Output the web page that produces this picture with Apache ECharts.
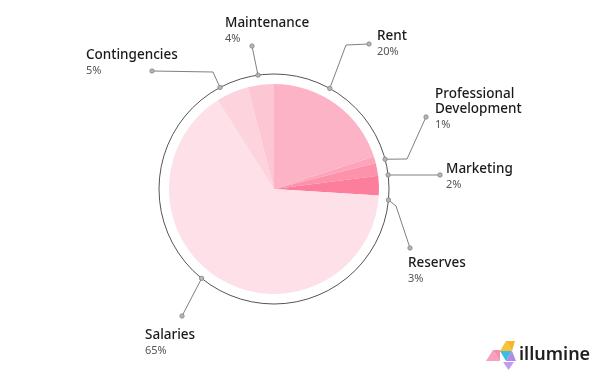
<!DOCTYPE html>
<html>
<head>
<meta charset="utf-8">
<script src="https://cdn.jsdelivr.net/npm/echarts@6/dist/echarts.min.js"></script>
<style>
html,body{margin:0;padding:0;background:#fff;}
#c{width:600px;height:387px;}
</style>
</head>
<body>
<div id="c"></div>
<script>
// ---- data ----
const categories = ['Rent', 'Professional Development', 'Marketing', 'Reserves', 'Salaries', 'Contingencies', 'Maintenance'];
const shares = [20, 1, 2, 3, 65, 5, 4];
const sliceColors = ['#fdb3c6', '#fda4ba', '#fd92ad', '#fc7e9c', '#fde0e8', '#fdd3de', '#fcc6d3'];

// ---- layout (positions, not data) ----
const CX = 274, CY = 189, PIE_R = 105, RING_R = 115;
const FONT = '"Noto Sans", sans-serif';
const layout = {
  'Rent':                     { x: 377, y: 29,  ang: 61,   bends: [[346, 45]],  end: [369, 44] },
  'Professional Development': { x: 435, y: 87,  ang: 15,   bends: [[407, 159]], end: [426, 117] },
  'Marketing':                { x: 446, y: 162, ang: 7,    bends: [],           end: [440, 175] },
  'Reserves':                 { x: 408, y: 256, ang: -5.5, bends: [[396, 206]], end: [410, 248] },
  'Salaries':                 { x: 145, y: 328, ang: 231,  bends: [],           end: [182, 316] },
  'Contingencies':            { x: 86,  y: 48,  ang: 118,  bends: [[213, 72]],  end: [152, 71] },
  'Maintenance':              { x: 225, y: 16,  ang: 98,   bends: [],           end: [252, 46] }
};

function ringPoint(deg) {
  const r = deg * Math.PI / 180;
  return [CX + RING_R * Math.cos(r), CY - RING_R * Math.sin(r)];
}

const graphics = [];
graphics.push({
  type: 'circle', shape: { cx: CX, cy: CY, r: RING_R },
  style: { fill: 'none', stroke: '#555555', lineWidth: 1 }, z: 1
});
categories.forEach(function (name) {
  const L = layout[name];
  const a = ringPoint(L.ang);
  const pts = [a].concat(L.bends).concat([L.end]);
  graphics.push({
    type: 'polyline', shape: { points: pts, smooth: 0 },
    style: { stroke: '#808080', lineWidth: 1, fill: 'none' }, z: 2
  });
  [a, L.end].forEach(function (p) {
    graphics.push({
      type: 'circle', shape: { cx: p[0], cy: p[1], r: 2.2 },
      style: { fill: '#b5b5b5', stroke: '#858585', lineWidth: 0.8 }, z: 3
    });
  });
});

// logo
const tri = function (pts, color) {
  return { type: 'polygon', shape: { points: pts }, style: { fill: color }, z: 5 };
};
graphics.push(tri([[486, 361], [493, 350], [500, 361]], '#f7a1bb'));
graphics.push(tri([[493, 350], [500, 361], [500, 350]], '#f48fb1'));
graphics.push(tri([[500, 351], [506, 341], [512, 351]], '#f8c23a'));
graphics.push(tri([[506, 341], [515, 341], [512, 351]], '#f6b52c'));
graphics.push(tri([[500, 351], [512, 351], [506, 361]], '#3dbde0'));
graphics.push(tri([[506, 361], [512, 351], [516, 361]], '#b48ae6'));
graphics.push(tri([[503, 362], [514, 362], [508.5, 370]], '#c39bf0'));
graphics.push({
  type: 'text', x: 519, y: 355, z: 5,
  style: { text: 'illumine', font: '600 18px ' + FONT, fill: '#1f1f1f', textVerticalAlign: 'middle' }
});

const chart = echarts.init(document.getElementById('c'), null, { renderer: 'canvas' });
chart.setOption({
  backgroundColor: '#ffffff',
  animation: false,
  graphic: graphics,
  series: [{
    type: 'pie',
    center: [CX, CY],
    radius: [0, PIE_R],
    startAngle: 90,
    clockwise: true,
    avoidLabelOverlap: false,
    emphasis: { disabled: true },
    itemStyle: { borderWidth: 0 },
    data: categories.map(function (c, i) {
      return { name: c, value: shares[i], itemStyle: { color: sliceColors[i] } };
    }),
    label: {
      show: true,
      position: 'outside',
      formatter: function (p) {
        const nm = p.name.length > 16 ? p.name.split(' ').join('\n') : p.name;
        return '{n|' + nm.split('\n').join('}\n{n|') + '}\n{p|' + p.value + '%}';
      },
      rich: {
        n: { fontFamily: FONT, fontSize: 13.5, fontWeight: 500, lineHeight: 15, color: '#1a1a1a' },
        p: { fontFamily: FONT, fontSize: 11, lineHeight: 15, color: '#555555' }
      }
    },
    labelLine: { show: false },
    labelLayout: function (params) {
      const L = layout[categories[params.dataIndex]];
      return { x: L.x, y: L.y, align: 'left', verticalAlign: 'top' };
    }
  }]
});
</script>
</body>
</html>
